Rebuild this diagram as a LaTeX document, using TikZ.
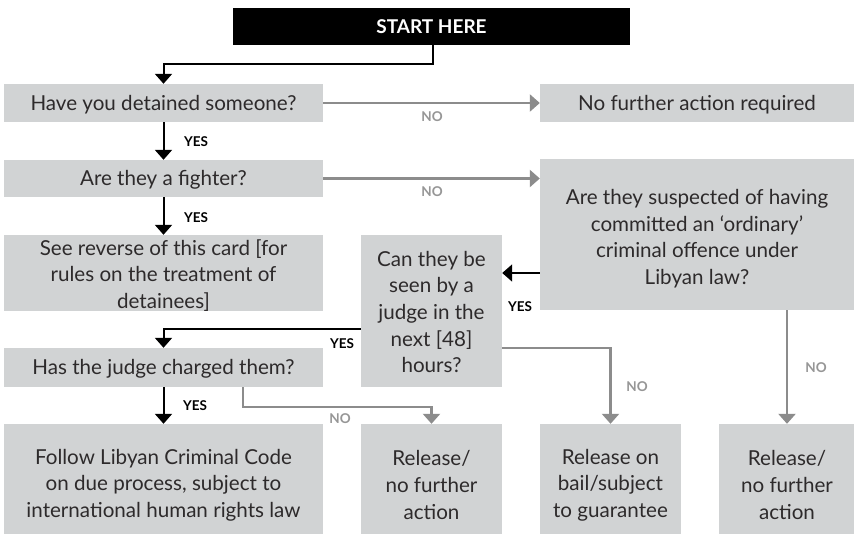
\documentclass[tikz,border=0pt]{standalone}
\usepackage{fontspec}
\setmainfont{Lato}
\usetikzlibrary{arrows.meta}
\definecolor{boxgray}{RGB}{209,211,212}
\definecolor{txt}{RGB}{45,42,43}
\definecolor{arrgray}{RGB}{140,140,140}
\definecolor{nogray}{RGB}{150,150,150}
\begin{document}
\begin{tikzpicture}[x=1pt,y=-1pt,
 box/.style={fill=boxgray, inner sep=0pt},
 boxtext/.style={text=txt, inner sep=0pt, align=center, font=\fontsize{20.6}{26.6}\selectfont},
 wh/.style 2 args={minimum width=#1pt, minimum height=#2pt},
 blk/.style={draw=black, line width=2pt, -{Triangle[width=17pt,length=10pt]}},
 gry/.style={draw=arrgray, line width=2.4pt, -{Triangle[width=17pt,length=10pt]}},
 yes/.style={font=\bfseries\fontsize{13.5}{13.5}\selectfont, text=black, inner sep=0pt},
 no/.style={font=\bfseries\fontsize{13.5}{13.5}\selectfont, text=nogray, inner sep=0pt}]
\useasboundingbox (0,0) rectangle (854,533);
\fill[white] (0,0) rectangle (854,533);
% boxes
\node[fill=black, text=white, inner sep=0pt, wh={397}{37}, font=\bfseries\fontsize{19}{19}\selectfont] (start) at (431.5,26.5) {START HERE};
\node[box, wh={319}{38}] (b1) at (163.5,103) {};
\node[box, wh={314}{38}] (nfa) at (697,103) {};
\node[box, wh={319}{37}] (b3) at (163.5,178.5) {};
\node[box, wh={314}{151}] (b4) at (697,234.5) {};
\node[box, wh={319}{76}] (b6) at (163.5,273) {};
\node[box, wh={141}{152}] (b5) at (431.5,311) {};
\node[box, wh={319}{39}] (b7) at (163.5,367.5) {};
\node[box, wh={319}{120}] (b8) at (163.5,484) {};
\node[box, wh={141}{120}] (b9) at (431.5,484) {};
\node[box, wh={141}{120}] (b10) at (610.5,484) {};
\node[box, wh={136}{120}] (b11) at (787,484) {};
% box texts
\node[boxtext] (t1) at ([yshift=-1.5pt]b1.center) {Have you detained someone?};
\node[boxtext] (tnfa) at ([yshift=-1.5pt]nfa.center) {No further action required};
\node[boxtext] (t3) at ([yshift=-1.5pt]b3.center) {Are they a fighter?};
\node[boxtext] (t4) at ([yshift=-4pt]b4.center) {Are they suspected of having\\committed an ‘ordinary’\\criminal offence under\\Libyan law?};
\node[boxtext] (t6) at ([yshift=-2.5pt]b6.center) {See reverse of this card [for\\rules on the treatment of\\detainees]};
\node[boxtext] (t5) at ([yshift=-1pt]b5.center) {Can they be\\seen by a\\judge in the\\next [48]\\hours?};
\node[boxtext] (t7) at ([yshift=-1.5pt]b7.center) {Has the judge charged them?};
\node[boxtext] (t8) at ([yshift=-1pt]b8.center) {Follow Libyan Criminal Code\\on due process, subject to\\international human rights law};
\node[boxtext] (t9) at ([yshift=-1pt]b9.center) {Release/\\no further\\action};
\node[boxtext] (t10) at ([yshift=-1pt]b10.center) {Release on\\bail/subject\\to guarantee};
\node[boxtext] (t11) at ([yshift=-1pt]b11.center) {Release/\\no further\\action};
% connectors
\draw[blk] ([xshift=1.5pt]start.south) -- ++(0,19) -| (b1.north);
\draw[gry] (b1.east) -- (nfa.west);
\draw[blk] (b1.south) -- (b3.north);
\draw[gry] (b3.east) -- (b3.east -| b4.west);
\draw[blk] (b3.south) -- (b6.north);
\draw[blk] ([yshift=-38.5pt]b4.west) -- ([yshift=-38.5pt]b4.west -| b5.east);
\draw[blk] ([yshift=-18pt]b5.west) -| (b7.north);
\draw[gry] ([yshift=-37pt]b5.east) -| (b10.north);
\draw[gry] (b4.south -| b11.north) -- (b11.north);
\draw[blk] (b7.south) -- (b8.north);
\draw[gry] ([xshift=79.5pt]b7.south) -- ++(0,20) -| (b9.north);
% labels
\node[no] (n1) at (432,117) {NO};
\node[no] (n2) at (432,192) {NO};
\node[yes] (y1) at (196,142) {YES};
\node[yes] (y2) at (196,218) {YES};
\node[yes] (y3) at (520,307) {YES};
\node[yes] (y4) at (342,344) {YES};
\node[no] (n3) at (637,387) {NO};
\node[no] (n4) at (816,368) {NO};
\node[yes] (y5) at (195,406) {YES};
\node[no] (n5) at (340,419) {NO};
\end{tikzpicture}
\end{document}
